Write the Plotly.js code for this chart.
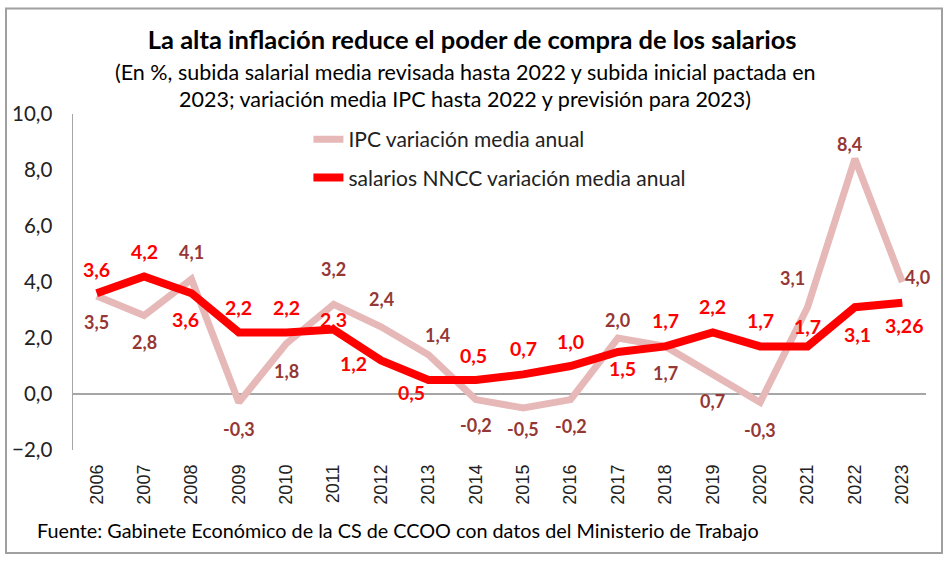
<!DOCTYPE html>
<html>
<head>
<meta charset="utf-8">
<script src="https://cdn.plot.ly/plotly-3.0.1.min.js"></script>
<style>html,body{margin:0;padding:0;background:#fff;}#chart{width:950px;height:561px;}</style>
</head>
<body>
<div id="chart"></div>
<script>
const years = ['2006','2007','2008','2009','2010','2011','2012','2013','2014','2015','2016','2017','2018','2019','2020','2021','2022','2023'];
const ipc = [3.5, 2.8, 4.1, -0.3, 1.8, 3.2, 2.4, 1.4, -0.2, -0.5, -0.2, 2.0, 1.7, 0.7, -0.3, 3.1, 8.4, 4.0];
const salarios = [3.6, 4.2, 3.6, 2.2, 2.2, 2.3, 1.2, 0.5, 0.5, 0.7, 1.0, 1.5, 1.7, 2.2, 1.7, 1.7, 3.1, 3.26];
const ipcName = 'IPC variación media anual';
const salName = 'salarios NNCC variación media anual';

// label offsets in pixels [xshift, yshift]
const ipcShift = [[0,-26],[0,-26],[0,27],[0,-27],[0,-27],[0,35],[0,28],[9,20],[0,-25],[0,-21],[0,-26],[0,18],[0,-27],[0,-27],[0,-28],[-15,29],[-5,15],[15,5]];
const salShift = [[0,24],[0,25],[-6,-26],[0,25],[0,25],[0,10],[-28,-3],[-17,-12],[-2,25],[0,26],[0,25],[5,-16],[0,26],[0,26],[0,26],[0,20],[3,-27],[2,-23]];

const fmt = v => (Math.round(v*10) === v*10 ? v.toFixed(1) : String(v)).replace('.', ',');
const FONT = 'Lato, "Open Sans", sans-serif';

const traces = [
  {x: years, y: ipc, type: 'scatter', mode: 'lines', name: ipcName, legendgroup: 'a',
   line: {color: '#E6B9B8', width: 7}},
  {x: years, y: salarios, type: 'scatter', mode: 'lines', name: salName, legendgroup: 'b',
   line: {color: '#FF0000', width: 8}}
];

const PL = 73, PT = 114, PW = 853, PH = 336;
const px = v => (v - PL) / PW;
const py = v => (PT + PH - v) / PH;

const annotations = [];
years.forEach((yr, i) => {
  annotations.push({x: i, y: ipc[i], xref: 'x', yref: 'y', text: '<b>' + fmt(ipc[i]) + '</b>', showarrow: false,
    xshift: ipcShift[i][0], yshift: ipcShift[i][1], font: {family: FONT, size: 18, color: '#953735'}});
  annotations.push({x: i, y: salarios[i], xref: 'x', yref: 'y', text: '<b>' + fmt(salarios[i]) + '</b>', showarrow: false,
    xshift: salShift[i][0], yshift: salShift[i][1], font: {family: FONT, size: 19.5, color: '#FF0000'}});
});
annotations.push({xref: 'paper', yref: 'paper', x: px(465), y: py(72), xanchor: 'center', yanchor: 'middle',
  text: '(En %, subida salarial media revisada hasta 2022 y subida inicial pactada en', showarrow: false,
  font: {family: FONT, size: 21.5, color: '#000'}});
annotations.push({xref: 'paper', yref: 'paper', x: px(465), y: py(99), xanchor: 'center', yanchor: 'middle',
  text: '2023; variación media IPC hasta 2022 y previsión para 2023)', showarrow: false,
  font: {family: FONT, size: 21.5, color: '#000'}});
annotations.push({xref: 'paper', yref: 'paper', x: px(35), y: py(530), xanchor: 'left', yanchor: 'middle',
  text: 'Fuente: Gabinete Económico de la CS de CCOO con datos del Ministerio de Trabajo', showarrow: false,
  font: {family: FONT, size: 19.8, color: '#000'}});

const layout = {
  width: 950, height: 561,
  margin: {l: PL, r: 950 - PL - PW, t: PT, b: 561 - PT - PH},
  paper_bgcolor: '#fff', plot_bgcolor: '#fff',
  separators: ',.',
  title: {text: '<b>La alta inflación reduce el poder de compra de los salarios</b>', xref: 'container', x: 0.497, xanchor: 'center',
    yref: 'container', y: 1 - 40/561, yanchor: 'middle', font: {family: FONT, size: 25.5, color: '#000'}},
  showlegend: true,
  legend: {x: 0.276, y: 0.985, xanchor: 'left', yanchor: 'top', bgcolor: 'rgba(0,0,0,0)', tracegroupgap: 8,
    font: {family: FONT, size: 21, color: '#222'}, traceorder: 'grouped'},
  xaxis: {type: 'category', range: [-0.5, 17.5], tickangle: -90, showgrid: false, showline: false, zeroline: false,
    ticks: '', ticklabelstandoff: 10, tickfont: {family: '"Liberation Sans", Arial, sans-serif', size: 18, color: '#222'}},
  yaxis: {range: [-2, 10], dtick: 2, tick0: 0, tickformat: '.1f', showgrid: false, showline: true, linecolor: '#A6A6A6', linewidth: 1.5,
    zeroline: true, zerolinecolor: '#A6A6A6', zerolinewidth: 2, ticks: '', ticklabelstandoff: 15,
    tickfont: {family: FONT, size: 20.5, color: '#222'}},
  shapes: [{type: 'rect', xref: 'paper', yref: 'paper', x0: px(6), x1: px(942), y0: py(553), y1: py(8.5),
    line: {color: '#A0A0A0', width: 2}, fillcolor: 'rgba(0,0,0,0)', layer: 'below'}],
  annotations: annotations
};

Plotly.newPlot('chart', traces, layout, {displayModeBar: false, staticPlot: true});
</script>
</body>
</html>
